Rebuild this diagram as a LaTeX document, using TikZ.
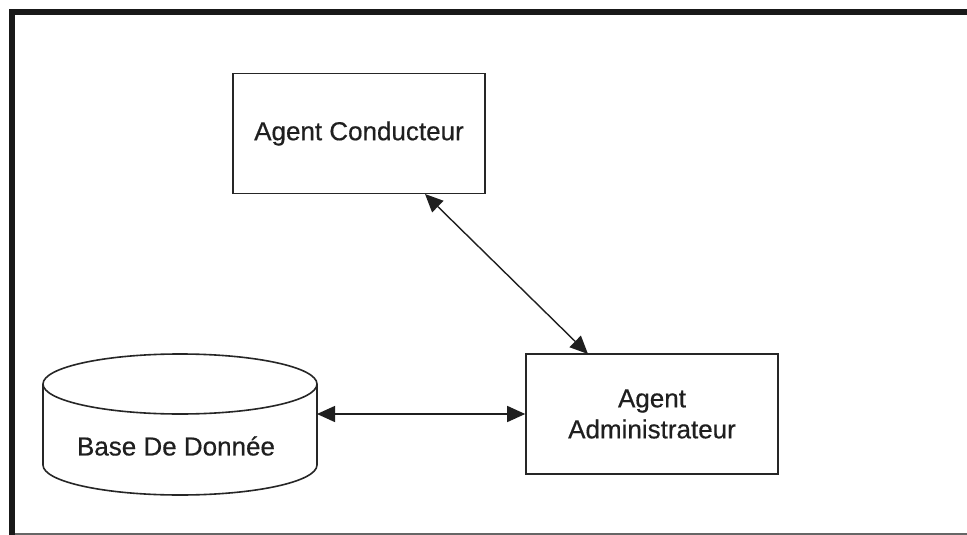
\documentclass[tikz,border=0pt]{standalone}
\usepackage{fontspec}
\setmainfont{Liberation Sans}
% regular outlines, lightly emboldened for the box captions
\newfontfamily\labelfont{Liberation Sans}[BoldFont={Liberation Sans},BoldFeatures={FakeBold=0.5}]
\usetikzlibrary{shapes.geometric,arrows.meta}
\begin{document}
\begin{tikzpicture}[x=1pt,y=-1pt,
  label font/.style={font=\labelfont\bfseries\fontsize{26}{31}\selectfont,text=black!88},
  agent/.style={draw=black!85,line width=1.6pt,minimum width=252pt,minimum height=120pt,inner sep=0pt,align=center,label font},
  link/.style={line width=1.4pt,black!88,{Triangle[length=18pt,width=16pt]}-{Triangle[length=18pt,width=16pt]}}]
\useasboundingbox (0,0) rectangle (967,535);
\fill[white] (0,0) rectangle (967,535);
% frame
\fill[black!90] (9,9) rectangle (967,15);
\fill[black!90] (9,9) rectangle (15,535);
\fill[black!60] (15,533) rectangle (967,535);
% agents
\node[agent] (cond) at (359,133.5) {Agent Conducteur};
\node[agent] (admin) at (652,414) {Agent\\Administrateur};
% database cylinder
\begin{scope}[draw=black!85,line width=1.6pt]
  \draw (43,384) -- (43,465) arc[start angle=180,end angle=0,x radius=137,y radius=30] -- (317,384);
  \draw (180,384) ellipse[x radius=137,y radius=30];
\end{scope}
\coordinate (dbr) at (317,414);
\node[label font] (db) at (176,446) {Base De Donnée};
% connectors
\coordinate (c1) at (425,194);
\coordinate (c2) at (588,354);
\draw[link] (c1) -- (c2);
\draw[link] (dbr) -- (admin.west);
\end{tikzpicture}
\end{document}
